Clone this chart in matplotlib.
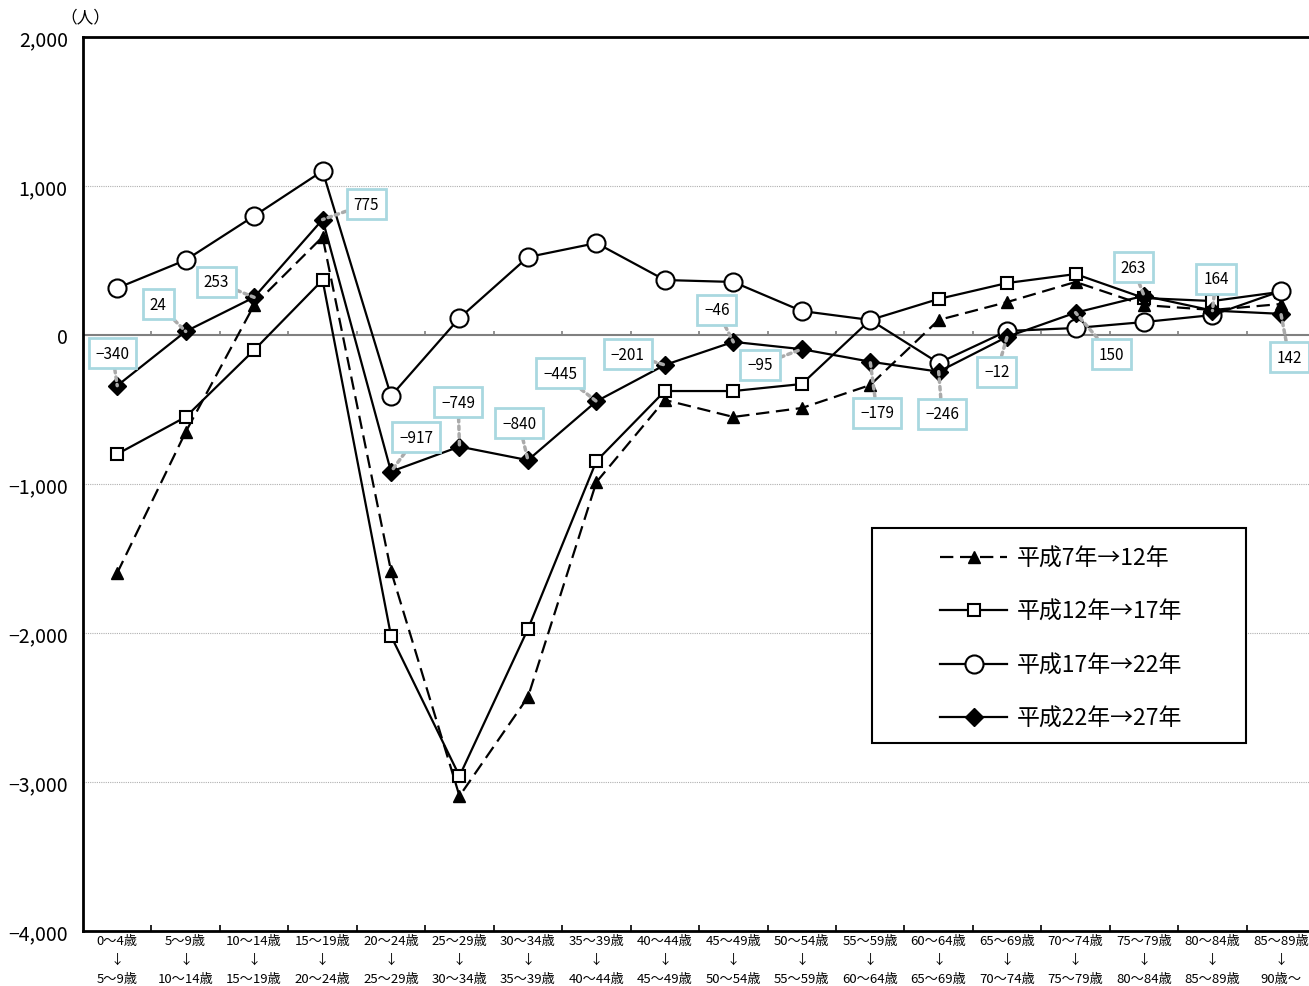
import numpy as np
import matplotlib
matplotlib.use("Agg")
import matplotlib.pyplot as plt
from matplotlib.patches import Rectangle

plt.rcParams['font.family'] = ['Noto Sans CJK JP', 'DejaVu Sans']

# age-group transitions
ages_from = ["0〜4歳", "5〜9歳", "10〜14歳", "15〜19歳", "20〜24歳", "25〜29歳",
             "30〜34歳", "35〜39歳", "40〜44歳", "45〜49歳", "50〜54歳", "55〜59歳",
             "60〜64歳", "65〜69歳", "70〜74歳", "75〜79歳", "80〜84歳", "85〜89歳"]
ages_to = ["5〜9歳", "10〜14歳", "15〜19歳", "20〜24歳", "25〜29歳", "30〜34歳",
           "35〜39歳", "40〜44歳", "45〜49歳", "50〜54歳", "55〜59歳", "60〜64歳",
           "65〜69歳", "70〜74歳", "75〜79歳", "80〜84歳", "85〜89歳", "90歳〜"]

h07_12 = [-1597, -651, 201, 658, -1584, -3094, -2430, -987, -436, -550,
          -490, -336, 101, 221, 356, 201, 168, 208]
h12_17 = [-799, -550, -101, 369, -2020, -2960, -1973, -846, -376, -376,
          -329, 101, 242, 349, 409, 248, 228, 290]
h17_22 = [315, 503, 799, 1101, -409, 114, 523, 617, 369, 356,
          161, 101, -188, 27, 47, 87, 134, 295]
h22_27 = [-340, 24, 253, 775, -917, -749, -840, -445, -201, -46,
          -95, -179, -246, -12, 150, 263, 164, 142]

series_names = ["平成7年→12年", "平成12年→17年", "平成17年→22年", "平成22年→27年"]

# where the value boxes of the latest series sit (x index, y value)
label_pos = [(-0.07, -121), (0.60, 208), (1.45, 356), (3.64, 879), (4.37, -685),
             (4.98, -450), (5.87, -591), (6.47, -255), (7.46, -128), (8.76, 168),
             (9.39, -201), (11.10, -523), (12.05, -530), (12.85, -248),
             (14.52, -128), (14.84, 456), (16.05, 376), (17.12, -148)]

x = np.arange(len(ages_from))

fig = plt.figure(figsize=(13.09, 9.87), dpi=100)
ax = fig.add_axes([0.0634, 0.0557, 0.9366, 0.9058])

for yv in [-3000, -2000, -1000, 1000]:
    ax.axhline(yv, color='#b0b0b0', lw=0.8, ls=(0, (1, 1)), zorder=0)
ax.axhline(0, color='#808080', lw=1.5, zorder=1)
ax.vlines(x[:-1] + 0.5, 0, 28, color='#808080', lw=1.2, zorder=1)

ax.plot(x, h07_12, color='black', lw=1.6, dashes=(6, 3), marker='^', ms=9,
        mfc='black', mec='black', label=series_names[0], zorder=3)
ax.plot(x, h12_17, color='black', lw=1.6, marker='s', ms=9,
        mfc='white', mec='black', mew=1.5, label=series_names[1], zorder=3)
ax.plot(x, h17_22, color='black', lw=1.6, marker='o', ms=13,
        mfc='white', mec='black', mew=1.5, label=series_names[2], zorder=3)
ax.plot(x, h22_27, color='black', lw=1.6, marker='D', ms=9,
        mfc='black', mec='black', label=series_names[3], zorder=4)

for xi, v, (lx, ly) in zip(x, h22_27, label_pos):
    ax.annotate(f"{v:,}".replace('-', '−'), xy=(xi, v), xytext=(lx, ly),
                ha='center', va='center', fontsize=11, zorder=6,
                bbox=dict(boxstyle='square,pad=0.45', fc='white',
                          ec='#a9d8e0', lw=2),
                arrowprops=dict(arrowstyle='-', color='#aaaaaa', lw=2.5,
                                ls=(0, (1, 1.2)), shrinkA=0, shrinkB=0))

ax.set_xlim(-0.5, 17.41)
ax.set_ylim(-4000, 2000)
ax.set_yticks(np.arange(-4000, 2001, 1000))
ax.set_yticklabels([f"{v:,}".replace('-', '−') for v in range(-4000, 2001, 1000)],
                   fontsize=14)
ax.set_xticks(x)
ax.set_xticklabels([f"{a}\n↓\n{b}" for a, b in zip(ages_from, ages_to)],
                   fontsize=9.5, linespacing=1.62)
ax.set_xticks(x[:-1] + 0.5, minor=True)
ax.tick_params(axis='x', which='major', length=0, pad=2)
ax.tick_params(axis='x', which='minor', length=4, direction='in', width=1.2)
ax.tick_params(axis='y', length=0, pad=11)

for side in ['left', 'bottom', 'top']:
    ax.spines[side].set_linewidth(2)
ax.spines['right'].set_visible(False)

fig.text(0.046, 0.982, "（人）", fontsize=12, ha='left', va='center')

# legend frame drawn separately so its margins can match the original
ax.add_patch(Rectangle((0.6436, 0.210), 0.3053, 0.241, transform=ax.transAxes,
                       fc='white', ec='black', lw=1.5, zorder=7))
leg = ax.legend(loc='upper left', bbox_to_anchor=(0.6994, 0.430), fontsize=16.5,
                handlelength=2.9, labelspacing=1.33, borderpad=0,
                handletextpad=0.45, frameon=False, borderaxespad=0)
leg.set_zorder(8)

fig.savefig("out.png", dpi=100)
